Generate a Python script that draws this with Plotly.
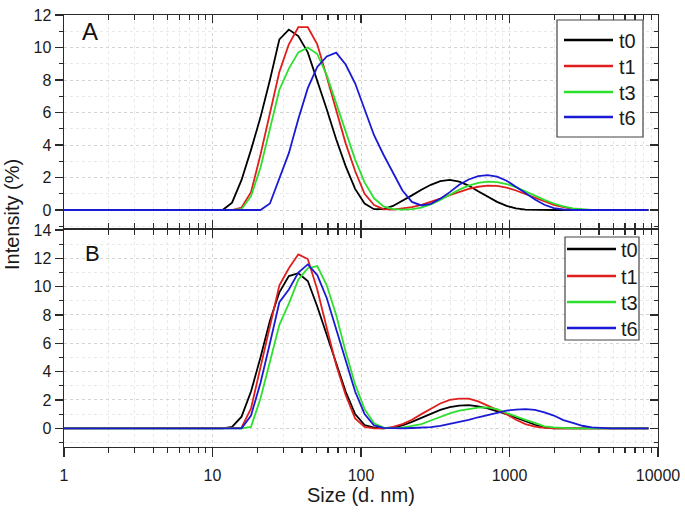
import plotly.graph_objects as go

# ---------------- data ----------------
sizes = [0.9649, 1.117, 1.294, 1.499, 1.736, 2.01, 2.328, 2.696, 3.122, 3.615,
         4.187, 4.849, 5.615, 6.503, 7.531, 8.721, 10.1, 11.7, 13.54, 15.69,
         18.17, 21.04, 24.36, 28.21, 32.67, 37.84, 43.82, 50.75, 58.77, 68.06,
         78.82, 91.28, 105.7, 122.4, 141.8, 164.2, 190.1, 220.2, 255.0, 295.3,
         342.0, 396.1, 458.7, 531.2, 615.1, 712.4, 825.0, 955.4, 1106, 1281,
         1484, 1718, 1990, 2305, 2669, 3091, 3580, 4145, 4801, 5560,
         6439, 7456, 8635]

# Panel A
t0_A = [0] * 18 + [0.45, 1.85, 3.7, 5.7, 8.0, 10.5, 11.1, 10.7, 9.7, 8.0,
                   6.2, 4.35, 2.7, 1.3, 0.4, 0.05, 0.05, 0.25, 0.55, 0.9,
                   1.25, 1.55, 1.78, 1.85, 1.75, 1.5, 1.15, 0.8, 0.5, 0.25,
                   0.1, 0.02] + [0] * 13
t1_A = [0] * 19 + [0.15, 1.1, 3.4, 6.0, 8.5, 10.2, 11.25, 11.25, 10.2, 8.2,
                   6.2, 4.1, 2.4, 1.0, 0.3, 0.05, 0.02, 0.08, 0.18, 0.32,
                   0.5, 0.7, 0.92, 1.12, 1.3, 1.43, 1.5, 1.48, 1.38, 1.2,
                   0.98, 0.75, 0.52, 0.32, 0.17, 0.07, 0.02] + [0] * 7
t3_A = [0] * 19 + [0.05, 0.85, 2.6, 5.0, 7.4, 8.7, 9.7, 10.0, 9.6, 8.3,
                   6.6, 4.8, 3.1, 1.7, 0.72, 0.22, 0.05, 0.02, 0.05, 0.15,
                   0.35, 0.62, 0.95, 1.25, 1.5, 1.67, 1.75, 1.72, 1.6, 1.4,
                   1.15, 0.88, 0.62, 0.4, 0.22, 0.1, 0.04, 0.01] + [0] * 6
t6_A = [0] * 22 + [0.4, 1.9, 3.5, 5.6, 7.5, 8.8, 9.45, 9.68, 8.95, 7.8,
                   6.15, 4.6, 3.4, 2.3, 1.2, 0.5, 0.28, 0.38, 0.7, 1.1,
                   1.55, 1.88, 2.08, 2.15, 2.05, 1.8, 1.45, 1.05, 0.65, 0.32,
                   0.12, 0.03] + [0] * 9

# Panel B
t0_B = [0] * 18 + [0.1, 0.82, 2.6, 5.0, 7.6, 9.6, 10.75, 10.95, 10.4, 8.6,
                   6.6, 4.6, 2.6, 1.0, 0.23, 0.04, 0.0, 0.05, 0.2, 0.45,
                   0.75, 1.05, 1.3, 1.5, 1.6, 1.63, 1.55, 1.4, 1.22, 1.0,
                   0.75, 0.5, 0.25, 0.06] + [0] * 11
t1_B = [0] * 19 + [0.05, 1.4, 4.3, 7.4, 10.1, 11.3, 12.28, 11.95, 9.8, 7.1,
                   4.47, 2.35, 0.7, 0.1, 0.0, 0.0, 0.1, 0.3, 0.6, 1.0,
                   1.4, 1.75, 2.0, 2.1, 2.1, 1.9, 1.6, 1.3, 1.0, 0.6,
                   0.3, 0.12, 0.03] + [0] * 11
t3_B = [0] * 20 + [0.1, 2.1, 4.7, 7.3, 8.8, 10.5, 11.3, 11.45, 10.1, 8.0,
                   5.4, 3.1, 1.35, 0.35, 0.05, 0.01, 0.05, 0.15, 0.3, 0.55,
                   0.82, 1.05, 1.25, 1.38, 1.46, 1.48, 1.35, 1.08, 0.82, 0.6,
                   0.38, 0.14, 0.06, 0.02] + [0] * 9
t6_B = [0] * 20 + [0.9, 3.2, 6.0, 8.9, 9.8, 11.0, 11.57, 10.82, 9.2, 7.0,
                   4.7, 2.6, 1.0, 0.2, 0.03, 0.0, 0.0, 0.02, 0.04, 0.08,
                   0.17, 0.3, 0.45, 0.6, 0.78, 0.95, 1.12, 1.25, 1.32, 1.35,
                   1.3, 1.13, 0.9, 0.58, 0.38, 0.18, 0.06, 0.02] + [0] * 5

series_names = ["t0", "t1", "t3", "t6"]
panel_A = [t0_A, t1_A, t3_A, t6_A]
panel_B = [t0_B, t1_B, t3_B, t6_B]
colors = ["#000000", "#e01e1e", "#2ee02e", "#1a1ad4"]

x_major = [1, 10, 100, 1000, 10000]
x_major_text = ["1", "10", "100", "1000", "10000"]
x_minor = [m * d for d in [1, 10, 100, 1000] for m in range(2, 10)]
yA_major = [0, 2, 4, 6, 8, 10, 12]
yB_major = [0, 2, 4, 6, 8, 10, 12, 14]

for s in panel_A + panel_B:
    assert len(s) == len(sizes)

# ---------------- geometry (page pixels; body margin removed) ----------------
W, H = 685, 513
PL, PT, PR, PB = 64, 15, 658, 447
L, T = PL, PT
PW, PH = PR - PL, PB - PT
R, B = W - L - PW, H - T - PH


def px(xp):
    return (xp - PL) / PW


def py(yp):
    return (PB - yp) / PH


FONT = "Liberation Sans, Arial, sans-serif"
AXC = "#2a2a2a"
GRID = "#d4d4d4"
MGRID = "#e9e9e9"

fig = go.Figure()
for name, ys, c in zip(series_names, panel_A, colors):
    fig.add_trace(go.Scatter(x=sizes, y=ys, mode="lines", name=name,
                             line=dict(color=c, width=1.8),
                             xaxis="x", yaxis="y", showlegend=False))
for name, ys, c in zip(series_names, panel_B, colors):
    fig.add_trace(go.Scatter(x=sizes, y=ys, mode="lines", name=name,
                             line=dict(color=c, width=1.8),
                             xaxis="x2", yaxis="y2", showlegend=False))

# invisible anchors for overlay (mirror) axes
for xa, ya in [("x3", "y"), ("x", "y3"), ("x4", "y2"), ("x2", "y4")]:
    fig.add_trace(go.Scatter(x=[10], y=[0], mode="markers", opacity=0,
                             xaxis=xa, yaxis=ya, showlegend=False,
                             hoverinfo="skip"))

xr = [0, 4]
yA = [-1.108, 12]
yB = [-1.32, 14]
domA = [py(228), 1]
domB = [0, py(230)]


def xaxis_common(**kw):
    d = dict(type="log", range=xr, showline=True, linecolor=AXC, linewidth=1.4,
             tickvals=x_major, ticktext=x_major_text, ticklen=8, tickwidth=1.3,
             tickcolor=AXC, zeroline=False, automargin=False,
             tickfont=dict(family=FONT, size=16, color="#1a1a1a"))
    d.update(kw)
    return d


def yaxis_common(**kw):
    d = dict(showline=True, linecolor=AXC, linewidth=1.4, ticklen=8,
             tickwidth=1.3, tickcolor=AXC, zeroline=False, automargin=False,
             tickfont=dict(family=FONT, size=16, color="#1a1a1a"))
    d.update(kw)
    return d


fig.update_layout(
    width=W, height=H,
    margin=dict(l=L, r=R, t=T, b=B, pad=0, autoexpand=False),
    paper_bgcolor="white", plot_bgcolor="white",
    font=dict(family=FONT, color="#1a1a1a"),
    xaxis=xaxis_common(domain=[0, 1], anchor="y", side="bottom", ticks="inside",
                       showticklabels=False, showgrid=True, gridcolor=GRID,
                       griddash="dot", gridwidth=1,
                       minor=dict(tickvals=x_minor, ticks="inside", ticklen=5,
                                  tickwidth=1.2, tickcolor=AXC, showgrid=True,
                                  gridcolor=MGRID, griddash="dot")),
    xaxis3=xaxis_common(overlaying="x", anchor="y", side="top", ticks="inside",
                        showticklabels=False, showgrid=False,
                        minor=dict(tickvals=x_minor, ticks="inside", ticklen=5,
                                   tickwidth=1.2, tickcolor=AXC, showgrid=False)),
    yaxis=yaxis_common(domain=domA, anchor="x", range=yA, tickvals=yA_major,
                       ticks="outside", showgrid=True, gridcolor=GRID,
                       griddash="dot",
                       minor=dict(dtick=1, tick0=0, ticks="outside", ticklen=4,
                                  tickwidth=1.2, tickcolor=AXC, showgrid=True,
                                  gridcolor=MGRID, griddash="dot")),
    yaxis3=yaxis_common(overlaying="y", anchor="x", side="right", range=yA,
                        tickvals=yA_major, ticks="inside", showticklabels=False,
                        showgrid=False,
                        minor=dict(dtick=1, tick0=0, ticks="inside", ticklen=4,
                                   tickwidth=1.2, tickcolor=AXC, showgrid=False)),
    xaxis2=xaxis_common(domain=[0, 1], anchor="y2", side="bottom", ticks="outside",
                        ticklen=9, showticklabels=True, showgrid=True,
                        gridcolor=GRID, griddash="dot", ticklabelstandoff=4,
                        minor=dict(tickvals=x_minor, ticks="outside", ticklen=5,
                                   tickwidth=1.2, tickcolor=AXC, showgrid=True,
                                   gridcolor=MGRID, griddash="dot")),
    xaxis4=xaxis_common(overlaying="x2", anchor="y2", side="top", ticks="inside",
                        showticklabels=False, showgrid=False,
                        minor=dict(tickvals=x_minor, ticks="inside", ticklen=5,
                                   tickwidth=1.2, tickcolor=AXC, showgrid=False)),
    yaxis2=yaxis_common(domain=domB, anchor="x2", range=yB, tickvals=yB_major,
                        ticks="outside", showgrid=True, gridcolor=GRID,
                        griddash="dot",
                        minor=dict(dtick=1, tick0=0, ticks="outside", ticklen=4,
                                   tickwidth=1.2, tickcolor=AXC, showgrid=True,
                                   gridcolor=MGRID, griddash="dot")),
    yaxis4=yaxis_common(overlaying="y2", anchor="x2", side="right", range=yB,
                        tickvals=yB_major, ticks="inside", showticklabels=False,
                        showgrid=False,
                        minor=dict(dtick=1, tick0=0, ticks="inside", ticklen=4,
                                   tickwidth=1.2, tickcolor=AXC, showgrid=False)),
)

shapes = []
annotations = []

# axis titles and panel labels
annotations.append(dict(text="Intensity (%)", xref="paper", yref="paper",
                        x=px(12), y=py(215), textangle=-90, showarrow=False,
                        xanchor="center", yanchor="middle",
                        font=dict(family=FONT, size=20, color="#1a1a1a")))
annotations.append(dict(text="Size (d. nm)", xref="paper", yref="paper",
                        x=px(361), y=py(495), showarrow=False,
                        xanchor="center", yanchor="middle",
                        font=dict(family=FONT, size=20, color="#1a1a1a")))
annotations.append(dict(text="A", xref="paper", yref="paper",
                        x=px(90), y=py(31), showarrow=False,
                        xanchor="center", yanchor="middle",
                        font=dict(family=FONT, size=24, color="#111111")))
annotations.append(dict(text="B", xref="paper", yref="paper",
                        x=px(92), y=py(254), showarrow=False,
                        xanchor="center", yanchor="middle",
                        font=dict(family=FONT, size=22, color="#111111")))

# legends (drawn as box + line samples + text)
legends = [
    dict(box=(557, 20, 643, 137), rows=[40, 66, 92, 117], lx=(564, 613), tx=617),
    dict(box=(565, 237, 639, 340), rows=[249, 276, 302, 328], lx=(567, 616), tx=619),
]
for lg in legends:
    x0, y0, x1, y1 = lg["box"]
    shapes.append(dict(type="rect", xref="paper", yref="paper",
                       x0=px(x0), x1=px(x1), y0=py(y1), y1=py(y0),
                       line=dict(color="#444444", width=1.2),
                       fillcolor="white", layer="above"))
    for name, c, ry in zip(series_names, colors, lg["rows"]):
        shapes.append(dict(type="line", xref="paper", yref="paper",
                           x0=px(lg["lx"][0]), x1=px(lg["lx"][1]),
                           y0=py(ry), y1=py(ry),
                           line=dict(color=c, width=2.6), layer="above"))
        annotations.append(dict(text=name, xref="paper", yref="paper",
                                x=px(lg["tx"]), y=py(ry + 1), showarrow=False,
                                xanchor="left", yanchor="middle",
                                font=dict(family=FONT, size=20, color="#1a1a1a")))

fig.update_layout(shapes=shapes, annotations=annotations)
fig.write_html(
    "out.html",
    config={"displayModeBar": False, "staticPlot": True},
    post_script="document.body.style.margin='0';"
                "document.body.style.overflow='hidden';",
)
